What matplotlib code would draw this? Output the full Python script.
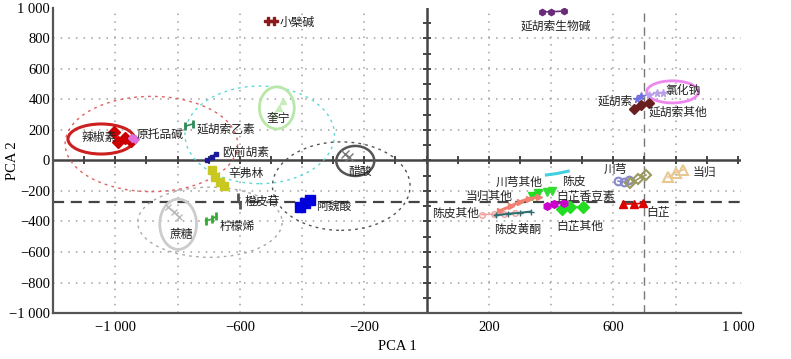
import matplotlib
matplotlib.use('Agg')
import matplotlib.pyplot as plt
from matplotlib.patches import Ellipse

# ---------------- data ----------------
series_names = ['辣椒素', '原托品碱', '延胡索乙素', '奎宁', '小檗碱', '欧前胡素', '辛弗林',
                '橙皮苷', '柠檬烯', '蔗糖', '阿魏酸', '醋酸',
                '延胡索生物碱', '延胡索', '延胡索其他', '氯化钠', '川芎', '川芎2', '当归', '白芷',
                '白芷香豆素', '川芎其他', '白芷其他', '陈皮', '当归其他', '陈皮其他', '陈皮黄酮', '未标注']
series_x = [
    [-1005, -990, -970, -950],
    [-945, -935],
    [-775, -750],
    [-490, -475, -460],
    [-510, -490],
    [-705, -690, -675],
    [-690, -680, -665, -650],
    [-605, -600],
    [-710, -690, -675],
    [-830, -810, -795],
    [-405, -390, -375],
    [-262, -250],
    [370, 400, 440],
    [675, 690],
    [665, 690, 715],
    [715, 740, 760],
    [615, 635, 650],
    [655, 680, 705],
    [775, 800, 825],
    [630, 665, 695],
    [388, 403],
    [338, 358],
    [434, 462, 504],
    [385, 420, 455],
    [235, 270, 300, 330, 360],
    [178, 215, 250, 285],
    [222, 260, 300, 334],
    [387, 410, 440],
]
series_y = [
    [185, 120, 150, 130],
    [150, 140],
    [225, 240],
    [300, 345, 390],
    [915, 915],
    [5, 25, 45],
    [-60, -105, -140, -170],
    [-240, -290],
    [-395, -385, -365],
    [-305, -340, -370],
    [-305, -280, -260],
    [40, 20],
    [975, 975, 980],
    [405, 420],
    [335, 365, 380],
    [430, 445, 440],
    [-135, -140, -130],
    [-150, -120, -95],
    [-110, -80, -60],
    [-285, -285, -280],
    [-205, -200],
    [-230, -210],
    [-320, -305, -305],
    [-95, -85, -70],
    [-330, -300, -270, -250, -240],
    [-355, -352, -348, -345],
    [-360, -350, -343, -335],
    [-300, -285, -280],
]

label_text = ['辣椒素', '原托品碱', '延胡索乙素', '奎宁', '小檗碱', '欧前胡素', '辛弗林', '橙皮苷',
              '柠檬烯', '蔗糖', '阿魏酸', '醋酸', '延胡索生物碱', '延胡索', '延胡索其他', '氯化钠',
              '川芎', '当归', '白芷', '白芷香豆素', '白芷其他', '陈皮', '川芎其他', '当归其他',
              '陈皮其他', '陈皮黄酮']

# group ellipses: centre x, centre y, width, height
ell_cx = [-1045, -884, -536, -481, -798, -696, -229, -274, 790]
ell_cy = [141, 108, 168, 345, -418, -405, -3, -168, 450]
ell_w = [214, 554, 480, 112, 118, 464, 122, 442, 166]
ell_h = [197, 625, 640, 276, 330, 460, 197, 580, 145]

xtick_vals = [-1000, -600, -200, 200, 600, 1000]
ytick_vals = [-1000, -800, -600, -400, -200, 0, 200, 400, 600, 800, 1000]
grid_x = [-1000, -800, -600, -400, -200, 200, 400, 600, 800]
grid_y = [-800, -600, -400, -200, 200, 400, 600, 800]
ref_h = -275
ref_v = 700

# ---------------- styles ----------------
styles = {
    '辣椒素': dict(marker='D', color='#cc0000', ms=6.5),
    '原托品碱': dict(marker='D', color='#e070e0', ms=4),
    '延胡索乙素': dict(marker='|', color='#2e8b57', ms=6, mew=2),
    '奎宁': dict(marker='^', color='#c8ecb8', ms=4.5),
    '小檗碱': dict(marker='P', color='#8b1a1a', ms=5.5),
    '欧前胡素': dict(marker='s', color='#1a1a9a', ms=3.5),
    '辛弗林': dict(marker='s', color='#c8c820', ms=6),
    '橙皮苷': dict(marker='|', color='#555555', ms=6, mew=2),
    '柠檬烯': dict(marker='|', color='#33aa33', ms=6, mew=2),
    '蔗糖': dict(marker='x', color='#bbbbbb', ms=5),
    '阿魏酸': dict(marker='s', color='#0000dd', ms=6.5),
    '醋酸': dict(marker='x', color='#777777', ms=5.5),
    '延胡索生物碱': dict(marker='h', color='#6a2c7a', ms=4.5),
    '延胡索': dict(marker='*', color='#7070e0', ms=5.5),
    '延胡索其他': dict(marker='D', color='#6b1e1e', ms=5.5),
    '氯化钠': dict(marker='*', color='#b9a0e8', ms=5.5),
    '川芎': dict(marker='o', color='#8888cc', ms=5.5, mfc='none', mew=1.5),
    '川芎2': dict(marker='D', color='#9a9a60', ms=5.5, mfc='none', mew=1.5),
    '当归': dict(marker='^', color='#e8c890', ms=6.5, mfc='none', mew=1.5),
    '白芷': dict(marker='^', color='#dd0000', ms=6),
    '白芷香豆素': dict(marker='v', color='#33dd33', ms=6),
    '川芎其他': dict(marker='v', color='#22dd22', ms=6),
    '白芷其他': dict(marker='D', color='#22dd22', ms=6),
    '陈皮': dict(marker='', color='#40d0e0', ms=4, lw=2.2),
    '当归其他': dict(marker='>', color='#f08070', ms=4.5, lw=2.2),
    '陈皮其他': dict(marker='o', color='#f0a0a0', ms=4, mfc='none'),
    '陈皮黄酮': dict(marker='+', color='#2f6f6f', ms=5, lw=1.5),
    '未标注': dict(marker='h', color='#cc00cc', ms=5.5),
}

label_pos = {
    '辣椒素': (-1110, 150, 'left'), '原托品碱': (-930, 170, 'left'), '延胡索乙素': (-738, 205, 'left'),
    '奎宁': (-515, 275, 'left'), '小檗碱': (-472, 905, 'left'), '欧前胡素': (-658, 52, 'left'),
    '辛弗林': (-638, -85, 'left'), '橙皮苷': (-584, -268, 'left'), '柠檬烯': (-664, -430, 'left'),
    '蔗糖': (-826, -488, 'left'), '阿魏酸': (-354, -302, 'left'), '醋酸': (-250, -72, 'left'),
    '延胡索生物碱': (416, 882, 'center'), '延胡索': (664, 392, 'right'), '延胡索其他': (712, 316, 'left'),
    '氯化钠': (766, 457, 'left'), '川芎': (568, -56, 'left'), '当归': (856, -76, 'left'),
    '白芷': (706, -342, 'left'), '白芷香豆素': (418, -233, 'left'), '白芷其他': (418, -432, 'left'),
    '陈皮': (434, -135, 'left'), '川芎其他': (222, -143, 'left'), '当归其他': (126, -235, 'left'),
    '陈皮其他': (18, -345, 'left'), '陈皮黄酮': (216, -452, 'left'),
}

ell_styles = [
    dict(ec='#cc2020', lw=2.2, ls='-'),
    dict(ec='#e06060', lw=1.0, ls=(0, (2, 3))),
    dict(ec='#60d8d8', lw=1.0, ls=(0, (2, 3))),
    dict(ec='#b8e8a8', lw=2.0, ls='-'),
    dict(ec='#cccccc', lw=2.0, ls='-'),
    dict(ec='#aaaaaa', lw=1.0, ls=(0, (2, 3))),
    dict(ec='#555555', lw=1.8, ls='-'),
    dict(ec='#555555', lw=1.0, ls=(0, (2, 3))),
    dict(ec='#ee88ee', lw=2.0, ls='-'),
]

# ---------------- figure ----------------
fig = plt.figure(figsize=(7.91, 3.59), dpi=100)
ax = fig.add_axes([53 / 791, 46 / 359, 688 / 791, 305 / 359])
ax.set_xlim(-1200, 1010)
ax.set_ylim(-1000, 1000)

for s in ['top', 'right']:
    ax.spines[s].set_visible(False)
for s in ['left', 'bottom']:
    ax.spines[s].set_color('#555555')
    ax.spines[s].set_linewidth(1.6)

serif = 'Liberation Serif'

def fmt(v):
    s = f'{abs(v):,}'.replace(',', ' ')
    return ('\u2212' + s) if v < 0 else s

ax.set_xticks(xtick_vals)
ax.set_xticklabels([fmt(v) for v in xtick_vals], fontfamily=serif, fontsize=10.5)
ax.set_yticks(ytick_vals)
ax.set_yticklabels([fmt(v) for v in ytick_vals], fontfamily=serif, fontsize=10.5)
ax.tick_params(axis='both', length=0)
ax.tick_params(axis='x', pad=6)
ax.tick_params(axis='y', pad=2)
ax.set_xlabel('PCA 1', fontfamily=serif, fontsize=10.5, labelpad=4)
ax.set_ylabel('PCA 2', fontfamily=serif, fontsize=10.5, va='center')
ax.yaxis.set_label_coords(-41 / 688, 0.5)

# grid
for gx in grid_x:
    ax.axvline(gx, color='#a0a0a0', lw=1.1, ls=(0, (1, 4)), zorder=0)
for gy in grid_y:
    ax.axhline(gy, color='#a0a0a0', lw=1.1, ls=(0, (1, 4)), zorder=0)

# reference dashed lines
ax.axhline(ref_h, color='#444444', lw=1.6, ls=(0, (5, 3)), zorder=1)
ax.axvline(ref_v, color='#777777', lw=1.0, ls=(0, (6, 4)), zorder=1)

# centre axes with tick marks
ax.axhline(0, color='#444444', lw=1.8, zorder=1)
ax.axvline(0, color='#444444', lw=1.8, zorder=1)
tx = list(range(-1100, 1001, 100))
ax.plot(tx, [0] * len(tx), ls='none', marker='|', ms=6, mew=1.4, color='#444444', zorder=1)
ty = list(range(-900, 901, 100))
ax.plot([0] * len(ty), ty, ls='none', marker='_', ms=6, mew=1.4, color='#444444', zorder=1)

# ellipses
for cx, cy, w, h, st in zip(ell_cx, ell_cy, ell_w, ell_h, ell_styles):
    ax.add_patch(Ellipse((cx, cy), w, h, fill=False, zorder=2, **st))

# series
for name, xs, ys in zip(series_names, series_x, series_y):
    st = dict(styles[name])
    lw = st.pop('lw', 1.2)
    ms = st.pop('ms', 5)
    ax.plot(xs, ys, color=st.pop('color'), marker=st.pop('marker'), ms=ms, lw=lw,
            zorder=3, **st)

# labels
for t in label_text:
    x, y, ha = label_pos[t]
    ax.text(x, y, t, fontsize=8.5, ha=ha, va='center', color='#222222', zorder=4,
            family=['Noto Sans CJK SC', 'DejaVu Sans'])

fig.savefig('out.png', dpi=100)
